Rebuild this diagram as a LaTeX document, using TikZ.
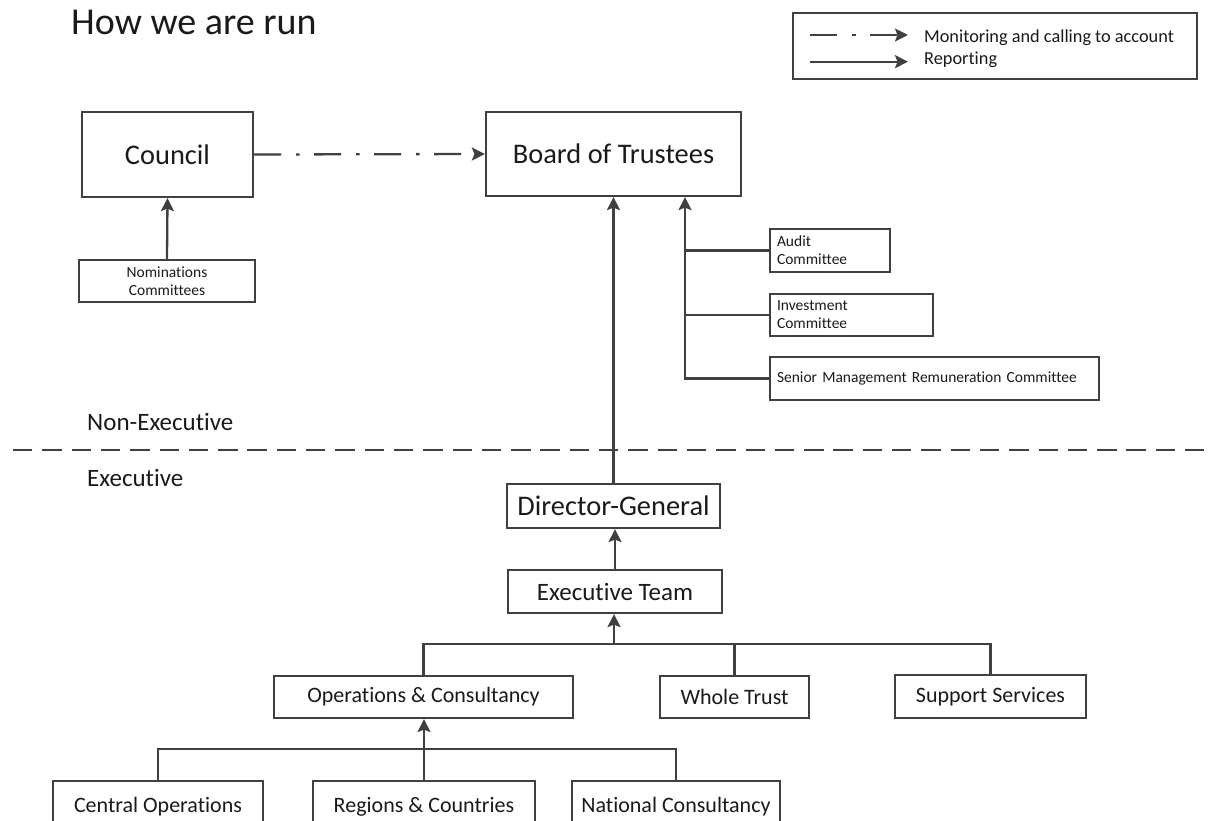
\documentclass[tikz,border=0pt]{standalone}
\usepackage{fontspec}
\setmainfont{Carlito}[Ligatures={NoCommon,NoContextual}]
\usetikzlibrary{arrows.meta}
\definecolor{ln}{HTML}{404040}
\definecolor{tx}{HTML}{1A1A1A}
\begin{document}
\begin{tikzpicture}[x=1pt,y=-1pt,
  box/.style={draw=ln, line width=2.2pt, inner sep=0pt, text=tx, align=center},
  lbox/.style={draw=ln, line width=2.2pt, inner xsep=7pt, inner ysep=0pt, text=tx, align=left},
  conn/.style={draw=ln, line width=2.3pt, line cap=butt},
  arr/.style={conn, -{Stealth[length=13pt,width=13pt,inset=2.5pt]}},
  mon/.style={arr, dash pattern=on 27pt off 15pt on 3.5pt off 14.5pt},
  lbl/.style={inner sep=0pt, text=tx, anchor=base west},
  fbig/.style={font=\fontsize{28.4}{32}\selectfont},
  fmid/.style={font=\fontsize{25}{28}\selectfont},
  fsm/.style={font=\fontsize{22}{26}\selectfont},
  ftiny/.style={font=\fontsize{15.5}{18}\selectfont},
  fleg/.style={font=\fontsize{18.3}{22}\selectfont}
]
\useasboundingbox (0,0) rectangle (1208,821);
\clip (0,0) rectangle (1208,821);

% title
\node[lbl, font=\fontsize{38}{42}\selectfont] (title) at (71,35) {How we are run};

% legend
\node[draw=ln, line width=2pt, minimum width=404, minimum height=66, inner sep=0pt] (legend) at (995,46) {};
\coordinate (l1a) at (810,35);
\coordinate (l1b) at (908,35);
\coordinate (l2a) at (810,61.7);
\coordinate (l2b) at (908,61.7);
\draw[mon] (l1a) -- (l1b);
\draw[arr] (l2a) -- (l2b);
\node[lbl, fleg] (legmon) at (924,42.3) {Monitoring and calling to account};
\node[lbl, fleg] (legrep) at (924,65) {Reporting};

% top nodes
\node[box, fbig, minimum width=171, minimum height=85] (council) at (167.5,154.5) {Council};
\node[box, fbig, minimum width=255, minimum height=84] (board) at (613.5,154) {Board of Trustees};
\node[box, ftiny, minimum width=176, minimum height=42] (nom) at (167,281) {Nominations\\Committees};

\node[lbox, ftiny, text width=106, minimum height=43] (audit) at (830,250.5) {Audit\\Committee};
\node[lbox, ftiny, text width=149, minimum height=42] (invest) at (851.5,315) {Investment\\Committee};
\node[lbox, ftiny, text width=315, minimum height=43] (senior) at (934.5,378.5) {Senior Management Remuneration Committee};

\draw[mon] (council.east) -- (board.west);
\draw[arr] (nom.north) -- (council.south);

\coordinate (bt2) at ([xshift=71.5pt]board.south);
\draw[arr] (senior.west) -| (bt2);
\draw[conn] (audit.west) -- (audit.west -| bt2);
\draw[conn] (invest.west) -- (invest.west -| bt2);

% separator
\node[lbl, fmid] (nonexec) at (87,430) {Non-Executive};
\node[lbl, fmid] (exec) at (87,486) {Executive};
\coordinate (dl) at (13,450);
\coordinate (dr) at (1210,450);
\draw[draw=ln, line width=2pt, dash pattern=on 19.4pt off 9.9pt] (dl) -- (dr);

% executive chain
\node[box, fbig, minimum width=213, minimum height=44] (dg) at (613.5,506) {Director-General};
\node[box, fmid, minimum width=214, minimum height=43] (et) at (615,591.5) {Executive Team};
\draw[arr] (dg.north) -- (board.south);
\draw[arr] (et.north) -- (et.north |- dg.south);

\node[box, fsm, minimum width=299, minimum height=42] (ops) at (423.5,697) {Operations \& Consultancy};
\node[box, fsm, minimum width=149, minimum height=42] (whole) at (734.5,697) {Whole Trust};
\node[box, fsm, minimum width=191, minimum height=43] (sup) at (990.5,696.5) {Support Services};

\coordinate (bus1) at (614,644);
\draw[arr] (bus1) -- (bus1 |- et.south);
\draw[conn] (ops.north) |- (bus1) -| (sup.north);
\draw[conn] (whole.north) -- (whole.north |- bus1);

\node[box, fsm, minimum width=210, minimum height=51] (cen) at (158,806.5) {Central Operations};
\node[box, fsm, minimum width=222, minimum height=51] (reg) at (424,806.5) {Regions \& Countries};
\node[box, fsm, minimum width=208, minimum height=51] (nat) at (676,806.5) {National Consultancy};

\coordinate (bus2) at (424,749);
\draw[conn] (cen.north) |- (bus2) -| (nat.north);
\draw[arr] (reg.north) -- (reg.north |- ops.south);
\end{tikzpicture}
\end{document}
